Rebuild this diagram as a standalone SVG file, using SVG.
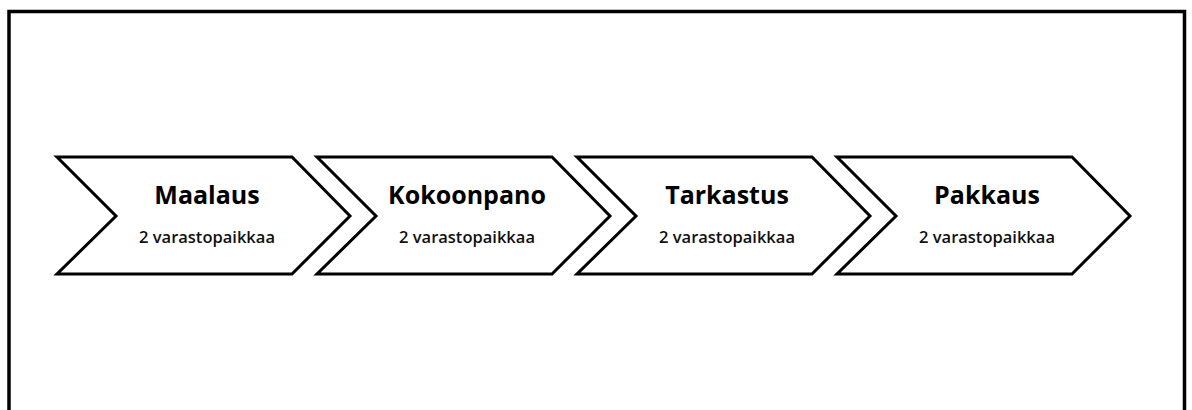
<svg xmlns="http://www.w3.org/2000/svg" width="1192" height="410" viewBox="0 0 1192 410">
  <defs>
    <style>
      .frame { fill: none; stroke: #000; stroke-width: 3.5; }
      .chev { fill: #fff; stroke: #000; stroke-width: 3; stroke-linejoin: miter; }
      .title { font-family: "Open Sans", "Noto Sans", sans-serif; font-weight: bold; font-size: 25px; fill: #000; text-anchor: middle; }
      .sub { font-family: "Open Sans", "Noto Sans", sans-serif; font-weight: 600; font-size: 16.5px; fill: #111; text-anchor: middle; }
    </style>
    <!-- chevron outline: flat top/bottom, notch on the left, point on the right -->
    <polygon id="chevron" points="0,0 235,0 293,59 235,117 0,117 59,59"/>
  </defs>

  <rect class="frame" x="9" y="11.5" width="1175.5" height="420"/>

  <g id="step-maalaus" transform="translate(57,157)">
    <use href="#chevron" class="chev"/>
    <text class="title" x="150" y="47">Maalaus</text>
    <text class="sub" x="150" y="86">2 varastopaikkaa</text>
  </g>

  <g id="step-kokoonpano" transform="translate(317,157)">
    <use href="#chevron" class="chev"/>
    <text class="title" x="150" y="47">Kokoonpano</text>
    <text class="sub" x="150" y="86">2 varastopaikkaa</text>
  </g>

  <g id="step-tarkastus" transform="translate(577,157)">
    <use href="#chevron" class="chev"/>
    <text class="title" x="150" y="47">Tarkastus</text>
    <text class="sub" x="150" y="86">2 varastopaikkaa</text>
  </g>

  <g id="step-pakkaus" transform="translate(837,157)">
    <use href="#chevron" class="chev"/>
    <text class="title" x="150" y="47">Pakkaus</text>
    <text class="sub" x="150" y="86">2 varastopaikkaa</text>
  </g>

  <g id="connectors"></g>
</svg>
